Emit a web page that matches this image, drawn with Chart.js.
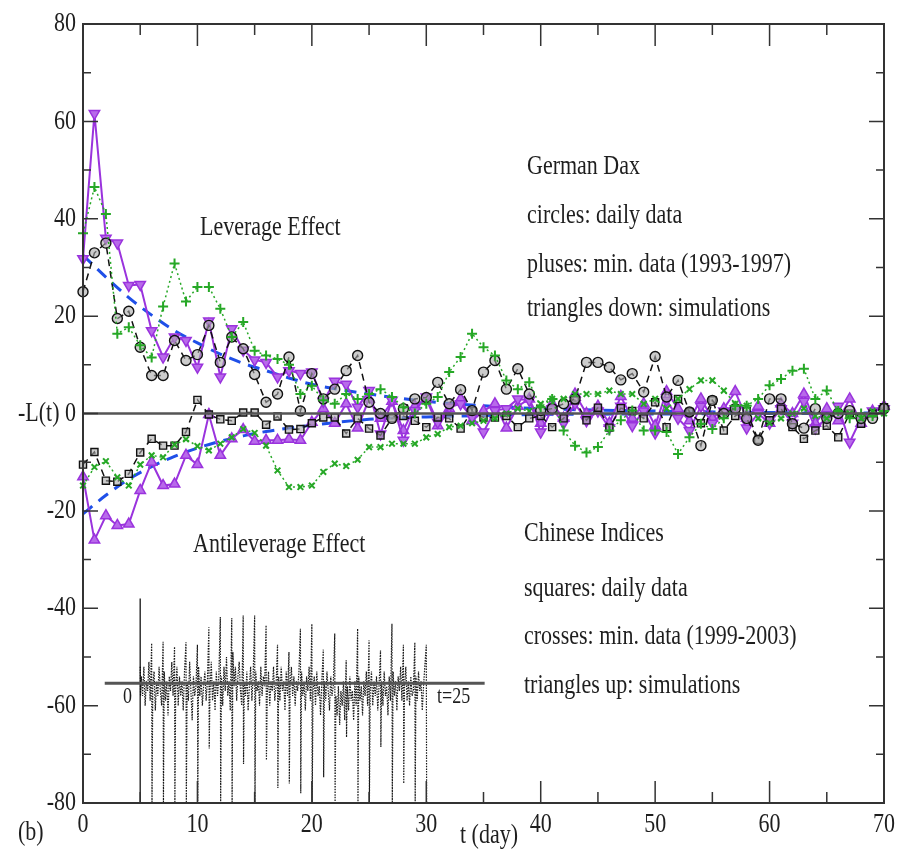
<!DOCTYPE html>
<html><head><meta charset="utf-8">
<script src="https://cdn.jsdelivr.net/npm/chart.js@4.4.1/dist/chart.umd.min.js"></script>
<style>html,body{margin:0;padding:0;background:#fff;}</style>
</head><body>
<canvas id="c" width="899" height="853"></canvas>
<script>
// ---------- DATA ----------
const days = Array.from({length:71},(_,i)=>i); // t = 0..70 (day)

const circlesDax = [25,33,35,19.5,21,13.6,7.8,7.8,15,10.9,
  12.1,18.1,10.5,15.7,13.3,8,2.3,4,11.6,0.5,
  8.2,3,5,8.8,11.9,2.3,0,-1,1,3,
  3.3,6.4,2,4.9,0.6,8.5,10.9,5,9.2,4,
  0.6,1,2,3,10.5,10.5,9.5,6.9,8.2,4.4,
  11.7,3.4,6.8,0.3,-6.6,2.7,0,1,-1,-5.5,
  3,3,-2.1,-3,1,-1,0,0.6,-1,-1,1];

const plusesDax = [37,46.5,41,16.4,17.7,14,11.5,22,30.8,23,
  26,26,21.5,15.7,18.8,12.9,11.9,11.2,10,4,
  5.7,2.7,2,4,3,4,5,3.4,1.3,0,
  2,3.4,8.5,11.6,16.4,13.6,11.9,6.8,5,6.4,
  1.3,3,-3.5,-6.6,-8,-6.9,-3.5,-1.4,0.6,-3.5,
  -3.5,-3.8,-8.3,-4.9,-2.1,-3.2,-1,1.6,1.6,3,
  5.8,7.1,8.8,9.2,3,4.7,0.5,-1,0,-0.5,0.5];

const trisDownDax = [31.8,61.6,36,35,26.3,26.5,17,11.6,15.7,15,
  9.5,19,7.5,17.4,13,11,10.5,7.5,8.8,8.2,
  8.5,2.5,6.6,6,1.3,4.7,-4.2,2.7,-5.5,0.6,
  3.4,-1.8,1.3,2,-0.8,-3.8,0.6,1,3,2.7,
  -3.8,1,-2,2,-1.5,0.5,-3,1.5,-2.5,0.5,
  -4,2.7,-1,-3.5,1.5,-2,0.5,1,-3,0,
  -2,1,-2,2.5,-3,-1,1.5,-5.9,-1,0.5,1];

const squaresCn = [-10.5,-7.9,-13.8,-14,-12.4,-8,-5.2,-6.6,-6.6,-3.8,
  2.8,-0.2,-1.2,-1.5,0.2,0.2,-2.3,-0.6,-3.3,-3.2,
  -2,-0.8,-0.8,-4.1,-1,-3.1,-4.5,-1,-0.5,-1.5,
  -2.8,-0.8,-1,-3.1,0.5,-0.8,-0.8,-0.5,-2.8,-1,
  -0.5,-2.8,-1,2.7,-1.4,1.2,-2.9,1.1,0.5,-1,
  2.3,-2.8,3,0.3,-2,2.7,-3.5,-0.5,0.5,-5.4,
  -1.4,1,-2.8,-5.2,-3.5,-2.5,-4.9,0,-2.1,0,1.3];

const crossesCn = [-14.8,-11,-9.8,-13.1,-14.8,-10.5,-8.6,-9,-6.4,-5.3,
  -6.7,-7.6,-6.2,-4.9,-3.2,-4,-6.6,-11.7,-15.1,-15.1,
  -14.8,-12,-10.3,-10.8,-9.5,-6.9,-6.9,-6.2,-6.2,-6.2,
  -4.9,-4.2,-2.8,-2.5,-2,-1.5,-1,0,1,0.5,
  2,3,3,4,4,4,4.7,4,4,2,
  3,1,3,5,6.8,6.8,4.7,2,1.6,-1,
  -2,-1,0,1,-0.5,-1,0.5,0,-1,0.5,0];

const trisUpCn = [-13,-26,-21,-23,-22.7,-15.8,-10,-14.8,-14.5,-8.6,
  -10.5,-0.2,-8.6,-5.2,-3.3,-5.7,-5.5,-5.5,-5.3,-5.5,
  -1.8,1,-2,2,-3,3,-1,2.5,-3.5,1.5,
  3,-2.5,1,3,-1.5,0.5,2,-3,1.5,3,
  -2,2,-1,4,0,1.5,-2,3.5,-1,2,
  -2.5,4.5,1,-1.5,3,-1,1,4.5,-1,1.5,
  -2,2,0,4,-2,1,-1.5,3,-2,0.5,1.5];

// fitted curves (blue dashed)
const fitT   = [0,2,4,6,8,10,12,14,16,18,20,25,30,35,40,50,60,70];
const fitDax = [32.5,28,23.8,20.2,17,14.5,12.2,10.3,8.8,7.3,6,4,2.5,1.6,1,0.5,0.2,0.1];
const fitCn  = [-20.6,-16.8,-13.5,-10.9,-8.8,-7.1,-5.7,-4.6,-3.7,-3,-2.4,-1.2,-0.7,-0.4,-0.2,-0.1,0,0];

// zero line
const zeroT = [0,70];
const zeroV = [0,0];

// inset (price-change series sketch)
const insetAxisT = [5,5];
const insetAxisV = [-38,-80];
const insetBaseT = [1.9,35.1];
const insetBaseV = [-55.4,-55.4];
const insetDays = [5,6,7,8,9,10,11,12,13,14,15,16,17,18,19,20,21,22,23,24,25,26,27,28,29,30];
const insetTop = [-52,-47.2,-46.9,-47.9,-47,-47.5,-43.9,-41.8,-42,-41.5,-41.5,-43.5,-47.5,-49,-44.2,-43.2,-48.5,-45.2,-50.7,-44.2,-46.6,-48.7,-43.2,-47.5,-47,-47.5];
const insetBottom = [-58,-80,-80,-80,-80,-80,-68.8,-80,-80,-72,-80,-71.2,-76.9,-76,-78,-80,-74.7,-80,-66.5,-80,-80,-68.5,-80,-76,-80,-80];
const insetNoise = [
 -54,-58,-52,-60,-55,-57,-51,-59,
 -56,-53,-61,-55,-58,-52,-57,-60,
 -53,-59,-55,-62,-54,-57,-51,-58,
 -57,-52,-60,-54,-58,-55,-61,-53,
 -55,-59,-51,-57,-63,-54,-58,-56,
 -52,-58,-54,-60,-56,-53,-59,-55,
 -57,-51,-59,-55,-61,-53,-58,-54,
 -54,-60,-52,-57,-50,-58,-55,-61,
 -49,-56,-52,-59,-54,-51,-57,-60,
 -55,-58,-53,-61,-56,-52,-59,-54,
 -53,-57,-55,-60,-52,-58,-54,-56,
 -58,-53,-60,-55,-57,-52,-59,-56,
 -54,-59,-52,-57,-55,-61,-53,-58,
 -56,-52,-58,-54,-60,-55,-57,-53,
 -53,-58,-55,-61,-54,-57,-52,-59,
 -57,-54,-60,-53,-58,-56,-62,-55,
 -55,-59,-53,-57,-61,-54,-58,-56,
 -58,-62,-56,-64,-57,-60,-55,-63,
 -56,-61,-54,-59,-57,-63,-55,-60,
 -54,-59,-56,-62,-55,-58,-53,-60,
 -57,-53,-60,-55,-58,-54,-61,-56,
 -55,-60,-53,-58,-56,-62,-54,-59,
 -53,-58,-55,-61,-54,-57,-52,-59,
 -56,-52,-59,-55,-60,-54,-58,-57,
 -54,-59,-53,-57,-55,-61,-56,-52];

// ticks / labels
const yTickLabels = [80,60,40,20,0,-20,-40,-60,-80];
const xTickLabels = [0,10,20,30,40,50,60,70];
const xMinor = [5,15,25,35,45,55,65];
const yMinor = [70,50,30,10,-10,-30,-50,-70];
const annotations = [
  ['Leverage Effect'], ['German Dax'], ['circles: daily data'], ['pluses: min. data (1993-1997)'],
  ['triangles down: simulations'], ['Antileverage Effect'], ['Chinese Indices'], ['squares: daily data'],
  ['crosses: min. data (1999-2003)'], ['triangles up: simulations']
];

// ---------- build ----------
const pts = (xs, ys) => xs.map((x,i)=>({x:x, y:ys[i]}));
const insetPts = [];
insetDays.forEach((d,i)=>{
  insetPts.push({x:d, y:insetTop[i]});
  insetPts.push({x:d+0.03, y:insetBottom[i]});
  if (i < insetDays.length-1) {
    for (let k=0;k<8;k++) insetPts.push({x:d+0.1+k*0.11, y:insetNoise[i*8+k]});
  }
});

const GREEN = '#26a826', PURPLE = '#9a33dd', BLUE = '#1f4fe8';
const base = {showLine:true, clip:false, pointHoverRadius:0};

const datasets = [
  Object.assign({}, base, {data:pts(insetBaseT,insetBaseV), borderColor:'#555', borderWidth:3, pointRadius:0}),
  Object.assign({}, base, {data:insetPts, borderColor:'rgba(0,0,0,0.9)', borderWidth:1.2, borderDash:[1.5,1.2], pointRadius:0}),
  Object.assign({}, base, {data:pts(insetAxisT,insetAxisV), borderColor:'#333', borderWidth:1.5, pointRadius:0}),
  Object.assign({}, base, {data:pts(zeroT,zeroV), borderColor:'#555', borderWidth:2.5, pointRadius:0}),
  Object.assign({}, base, {data:pts(days,plusesDax), borderColor:GREEN, borderWidth:1.5, borderDash:[2,3],
     pointStyle:'cross', pointRadius:5, pointBorderWidth:2, pointBorderColor:GREEN}),
  Object.assign({}, base, {data:pts(days,crossesCn), borderColor:GREEN, borderWidth:1.5, borderDash:[2,3],
     pointStyle:'crossRot', pointRadius:4, pointBorderWidth:2, pointBorderColor:GREEN}),
  Object.assign({}, base, {data:pts(days,circlesDax), borderColor:'#111', borderWidth:1.5, borderDash:[7,5],
     pointStyle:'circle', pointRadius:5, pointBorderWidth:1.4, pointBorderColor:'#111', pointBackgroundColor:'rgba(170,170,170,0.6)'}),
  Object.assign({}, base, {data:pts(days,squaresCn), borderColor:'#111', borderWidth:1.5, borderDash:[7,5],
     pointStyle:'rect', pointRadius:5, pointBorderWidth:1.4, pointBorderColor:'#111', pointBackgroundColor:'rgba(170,170,170,0.6)'}),
  Object.assign({}, base, {data:pts(days,trisDownDax), borderColor:PURPLE, borderWidth:2,
     pointStyle:'triangle', rotation:180, pointRadius:6, pointBorderWidth:1.5, pointBorderColor:PURPLE, pointBackgroundColor:'#b86aea'}),
  Object.assign({}, base, {data:pts(days,trisUpCn), borderColor:PURPLE, borderWidth:2,
     pointStyle:'triangle', pointRadius:6, pointBorderWidth:1.5, pointBorderColor:PURPLE, pointBackgroundColor:'#b86aea'}),
  Object.assign({}, base, {data:pts(fitT,fitDax), borderColor:BLUE, borderWidth:3, borderDash:[12,8], pointRadius:0, cubicInterpolationMode:'monotone'}),
  Object.assign({}, base, {data:pts(fitT,fitCn), borderColor:BLUE, borderWidth:3, borderDash:[12,8], pointRadius:0, cubicInterpolationMode:'monotone'})
];

const FONT = '"Liberation Serif","Times New Roman",serif';
function txt(ctx, s, x, y, size, align){
  ctx.save();
  ctx.font = size+'px '+FONT;
  ctx.textAlign = align||'left';
  ctx.textBaseline = 'middle';
  ctx.fillStyle = '#1e1e1e';
  ctx.translate(x,y); ctx.scale(1,1.25);
  ctx.fillText(s,0,0);
  ctx.restore();
}

const framePlugin = {
  id:'frame',
  afterDraw(chart){
    const ctx = chart.ctx, a = chart.chartArea, xs = chart.scales.x, ys = chart.scales.y;
    ctx.save();
    ctx.strokeStyle = '#333'; ctx.lineWidth = 2;
    ctx.strokeRect(a.left, a.top, a.right-a.left, a.bottom-a.top);
    ctx.lineWidth = 1.5;
    ctx.beginPath();
    xTickLabels.forEach(v=>{const p=xs.getPixelForValue(v); ctx.moveTo(p,a.bottom); ctx.lineTo(p,a.bottom-22); ctx.moveTo(p,a.top); ctx.lineTo(p,a.top+22);});
    xMinor.forEach(v=>{const p=xs.getPixelForValue(v); ctx.moveTo(p,a.bottom); ctx.lineTo(p,a.bottom-11); ctx.moveTo(p,a.top); ctx.lineTo(p,a.top+11);});
    yTickLabels.forEach(v=>{const p=ys.getPixelForValue(v); ctx.moveTo(a.left,p); ctx.lineTo(a.left+15,p); ctx.moveTo(a.right,p); ctx.lineTo(a.right-15,p);});
    yMinor.forEach(v=>{const p=ys.getPixelForValue(v); ctx.moveTo(a.left,p); ctx.lineTo(a.left+8,p); ctx.moveTo(a.right,p); ctx.lineTo(a.right-8,p);});
    ctx.stroke();
    ctx.restore();
    // tick labels
    yTickLabels.forEach(v=>txt(ctx, String(v), a.left-7, ys.getPixelForValue(v), 22, 'right'));
    xTickLabels.forEach(v=>txt(ctx, String(v), xs.getPixelForValue(v), a.bottom+22, 22, 'center'));
    // axis titles
    txt(ctx, '-L(t)', 18, ys.getPixelForValue(0), 22, 'left');
    txt(ctx, 't (day)', 460, 836, 22, 'left');
    txt(ctx, '(b)', 18, 833, 22, 'left');
    // annotations
    const pos = [[200,228],[527,167],[527,216],[527,265],[527,309],[193,545],[524,534],[524,589],[524,637],[524,686]];
    annotations.forEach((t,i)=>txt(ctx, t[0], pos[i][0], pos[i][1], 22, 'left'));
    // inset labels
    txt(ctx, '0', 123, 697, 18, 'left');
    txt(ctx, 't=25', 437, 697, 18, 'left');
  }
};

new Chart(document.getElementById('c'), {
  type:'scatter',
  data:{datasets},
  options:{
    responsive:false, animation:false, devicePixelRatio:1,
    layout:{padding:{left:0,right:15,top:24,bottom:0}},
    plugins:{legend:{display:false}, tooltip:{enabled:false}},
    events:[],
    scales:{
      x:{type:'linear', min:0, max:70, grid:{display:false}, border:{display:false}, ticks:{display:false},
         afterFit(s){s.height=50;}},
      y:{type:'linear', min:-80, max:80, grid:{display:false}, border:{display:false}, ticks:{display:false},
         afterFit(s){s.width=83;}}
    }
  },
  plugins:[framePlugin]
});
</script>
</body></html>
